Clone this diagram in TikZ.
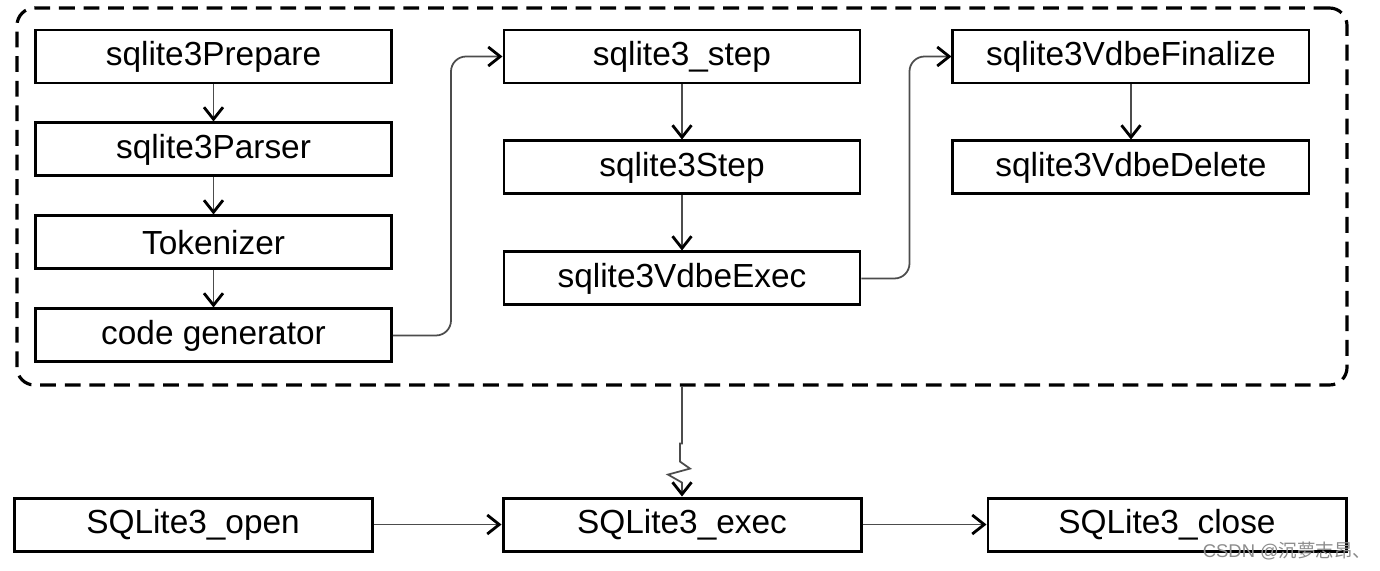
\documentclass[tikz,border=0pt]{standalone}
\usepackage{fontspec}
\setmainfont{Liberation Sans}
\newfontfamily\cjkfont{Noto Sans CJK SC}
\usetikzlibrary{positioning,arrows.meta}

\begin{document}
\begin{tikzpicture}[
    font=\fontsize{19pt}{22pt}\selectfont,
    box/.style={rectangle, draw, line width=1.7pt, minimum width=7.12cm, minimum height=1.06cm, inner sep=0pt},
    arrow/.style={-{Straight Barb[length=2.4mm,width=3.8mm,line width=1.6pt,color=black]}, line width=1pt, draw=black!70},
    frame/.style={draw, dashed, dash pattern=on 9pt off 5pt, line width=1.8pt, rounded corners=0.35cm, minimum width=26.6cm, minimum height=7.54cm}
]
\useasboundingbox (0,0) rectangle (27.6,-11.4);

% dashed group
\node[frame] (frame) at (13.64,-3.93) {};

% left column
\node[box] (prepare) at (4.27,-1.13) {sqlite3Prepare};
\node[box, below=0.74cm of prepare] (parser) {sqlite3Parser};
\node[box, below=0.74cm of parser] (tokenizer) {Tokenizer};
\node[box, below=0.74cm of tokenizer] (codegen) {code generator};

% middle column
\node[box, right=2.19cm of prepare] (step) {sqlite3\_step};
\node[box, below=1.1cm of step] (vstep) {sqlite3Step};
\node[box, below=1.1cm of vstep] (vexec) {sqlite3VdbeExec};

% right column
\node[box, right=1.8cm of step] (finalize) {sqlite3VdbeFinalize};
\node[box, below=1.1cm of finalize] (vdelete) {sqlite3VdbeDelete};

% bottom row
\node[box, minimum width=7.16cm] (exec) at (13.64,-10.49) {SQLite3\_exec};
\node[box, minimum width=7.16cm, left=2.56cm of exec] (open) {SQLite3\_open};
\node[box, minimum width=7.16cm, right=2.48cm of exec] (close) {SQLite3\_close};

\draw[arrow] (prepare) -- (parser);
\draw[arrow] (parser) -- (tokenizer);
\draw[arrow] (tokenizer) -- (codegen);
\draw[arrow, rounded corners=0.3cm] (codegen.east) -- ++(1.16,0) |- (step.west);
\draw[arrow] (step) -- (vstep);
\draw[arrow] (vstep) -- (vexec);
\draw[arrow, rounded corners=0.3cm] (vexec.east) -- ++(0.96,0) |- (finalize.west);
\draw[arrow] (finalize) -- (vdelete);

\draw[arrow] (frame.south) -- ++(0,-1.14) -- ++(-0.04,0) -- ++(0,-0.36) -- ++(0.2,-0.14) -- ++(-0.44,-0.12) -- ++(0.28,-0.16) -- (exec.north);
\draw[arrow] (open) -- (exec);
\draw[arrow] (exec) -- (close);

\node[text=black!45, font=\fontsize{10.5pt}{12pt}\selectfont, inner sep=0pt] (mark) at (25.74,-11.02) {CSDN @{\cjkfont 沉夢志昂、}};
\end{tikzpicture}
\end{document}
